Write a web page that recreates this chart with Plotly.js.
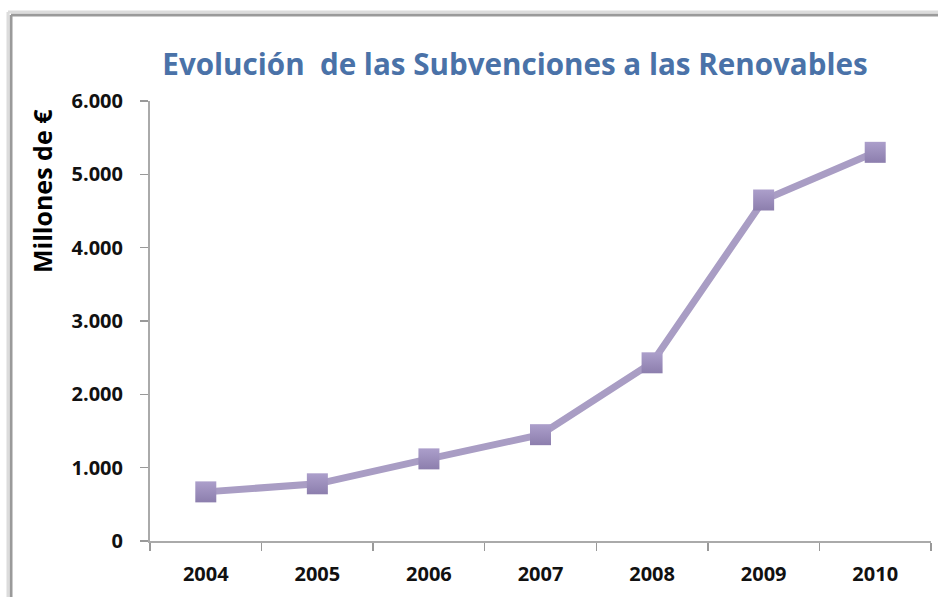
<!DOCTYPE html>
<html>
<head>
<meta charset="utf-8">
<script src="https://cdn.plot.ly/plotly-3.0.1.min.js"></script>
<style>
html,body{margin:0;padding:0;background:#fff;}
#chart{width:938px;height:597px;}
</style>
</head>
<body>
<div id="chart"></div>
<script>
const years = ['2004','2005','2006','2007','2008','2009','2010'];
const subsidies = [670, 780, 1120, 1450, 2430, 4650, 5300];
const yTicks = [0, 1000, 2000, 3000, 4000, 5000, 6000];

const trace = {
  x: years,
  y: subsidies,
  type: 'scatter',
  mode: 'lines+markers',
  line: {color: '#A99DC4', width: 7},
  marker: {
    symbol: 'square',
    size: 21,
    color: '#AC9FCB',
    gradient: {type: 'vertical', color: '#8C7EAD'},
    line: {width: 0}
  },
  hoverinfo: 'x+y'
};

const L = 150, R = 931, T = 101, B = 541;
const px = v => (v - L) / (R - L);
const py = v => (B - v) / (B - T);
const tickFont = {family: '"Open Sans", sans-serif', size: 20, color: '#111', weight: 'bold'};

const layout = {
  width: 938,
  height: 597,
  margin: {l: L, r: 938 - R, t: T, b: 597 - B},
  paper_bgcolor: '#fff',
  plot_bgcolor: '#fff',
  separators: ',.',
  showlegend: false,
  title: {
    text: 'Evolución  de las Subvenciones a las Renovables',
    font: {family: '"Open Sans", sans-serif', size: 29.6, color: '#4A72A8', weight: 'bold'},
    x: 515 / 938, xanchor: 'center', xref: 'container',
    y: 1 - 65 / 597, yanchor: 'middle', yref: 'container'
  },
  xaxis: {
    type: 'category',
    tickson: 'boundaries',
    ticks: 'outside',
    ticklen: 8,
    tickcolor: '#999',
    tickwidth: 1.5,
    showline: true,
    linecolor: '#aaa',
    linewidth: 2,
    showgrid: false,
    zeroline: false,
    range: [-0.5, 6.5],
    ticklabelstandoff: 14,
    tickfont: tickFont
  },
  yaxis: {
    range: [0, 6000],
    tickvals: yTicks,
    tickformat: ',d',
    ticks: 'outside',
    ticklen: 8,
    tickcolor: '#999',
    tickwidth: 1.5,
    showline: true,
    linecolor: '#aaa',
    linewidth: 2,
    showgrid: false,
    zeroline: false,
    ticklabelstandoff: 13,
    tickfont: tickFont
  },
  annotations: [{
    text: 'Millones de €',
    textangle: -90,
    xref: 'paper', yref: 'paper',
    x: px(42), y: py(191),
    xanchor: 'center', yanchor: 'middle',
    showarrow: false,
    font: {family: '"Open Sans", sans-serif', size: 25, color: '#000', weight: 'bold'}
  }],
  shapes: [
    {type: 'line', xref: 'paper', yref: 'paper', x0: px(11), x1: px(940), y0: py(15), y1: py(15), line: {color: '#9a9a9a', width: 3}},
    {type: 'line', xref: 'paper', yref: 'paper', x0: px(11), x1: px(11), y0: py(15), y1: py(600), line: {color: '#9a9a9a', width: 3}},
    {type: 'line', xref: 'paper', yref: 'paper', x0: px(8), x1: px(940), y0: py(12), y1: py(12), line: {color: '#dcdcdc', width: 3}},
    {type: 'line', xref: 'paper', yref: 'paper', x0: px(8), x1: px(8), y0: py(12), y1: py(600), line: {color: '#dcdcdc', width: 3}}
  ]
};

Plotly.newPlot('chart', [trace], layout, {displayModeBar: false, staticPlot: true});
</script>
</body>
</html>
